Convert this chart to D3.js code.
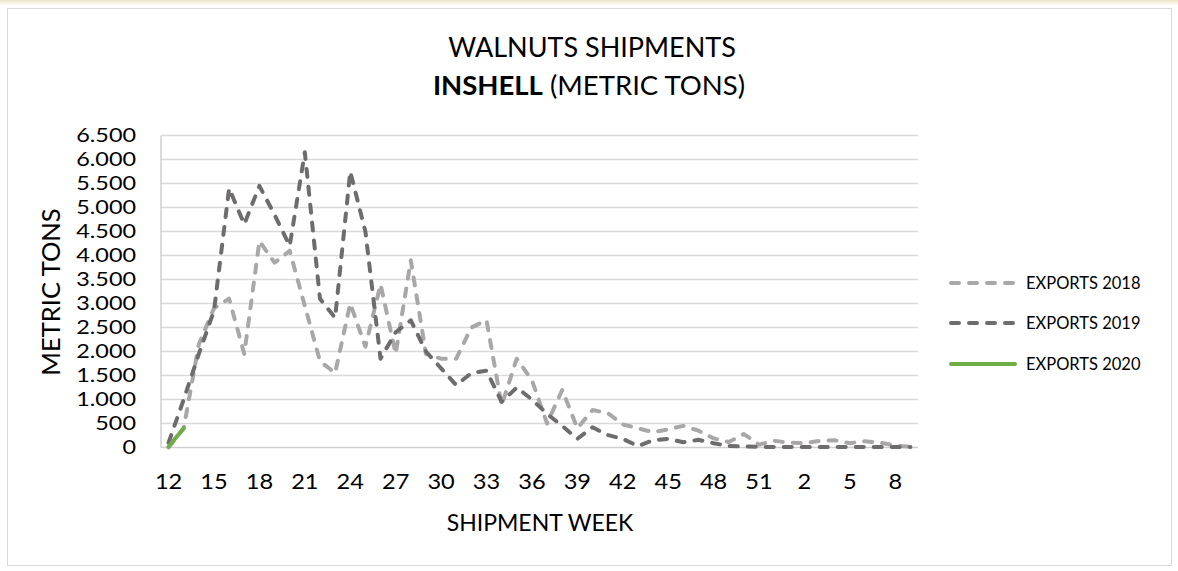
<!DOCTYPE html>
<html>
<head>
<meta charset="utf-8">
<script src="https://cdn.jsdelivr.net/npm/d3@7"></script>
<style>
  html, body { margin: 0; padding: 0; background: #ffffff; }
  svg { display: block; font-family: Lato, "Open Sans", sans-serif; }
</style>
</head>
<body>
<svg id="chart" width="1178" height="571"></svg>
<script>
// ---- data ----
const weeks = ["12","13","14","15","16","17","18","19","20","21","22","23","24","25","26","27","28","29","30","31",
  "32","33","34","35","36","37","38","39","40","41","42","43","44","45","46","47","48","49","50","51",
  "52","1","2","3","4","5","6","7","8","9"];
const exports2018 = [0,400,2150,2900,3100,1950,4300,3850,4100,2950,1800,1550,3000,2100,3400,1950,3900,1950,1850,1850,
  2500,2650,880,1850,1400,500,1200,400,780,720,480,400,320,380,450,350,190,115,280,60,
  140,100,90,140,150,90,130,100,40,15];
const exports2019 = [100,1000,1950,2850,5400,4650,5450,4850,4200,6150,3100,2700,5750,4500,1850,2400,2650,2000,1650,1300,
  1550,1600,950,1250,1000,700,450,180,420,260,180,30,150,180,110,160,90,30,20,15,
  10,10,10,10,10,10,10,10,10,10];
const exports2020 = [20,400];
const xTickLabels = ["12","15","18","21","24","27","30","33","36","39","42","45","48","51","2","5","8"];
const yTickValues = [0,500,1000,1500,2000,2500,3000,3500,4000,4500,5000,5500,6000,6500];
const seriesNames = ["EXPORTS 2018","EXPORTS 2019","EXPORTS 2020"];

// ---- layout ----
const svg = d3.select("#chart");
const plot = {left: 161, right: 918, top: 135.5, bottom: 447.5};
const colors = ["#a9a7a7", "#6f6c6c", "#70ad47"];

// top beige band
const defs = svg.append("defs");
const grad = defs.append("linearGradient").attr("id","topband").attr("x1",0).attr("x2",0).attr("y1",0).attr("y2",1);
grad.append("stop").attr("offset","0%").attr("stop-color","#efe4c8");
grad.append("stop").attr("offset","100%").attr("stop-color","#ffffff");
svg.append("rect").attr("x",0).attr("y",0).attr("width",1178).attr("height",6).attr("fill","url(#topband)");

// outer border
svg.append("rect").attr("x",7.5).attr("y",8.5).attr("width",1164).attr("height",557)
  .attr("fill","#fff").attr("stroke","#d9d9d9").attr("stroke-width",1);

const x = d3.scaleBand().domain(weeks).range([plot.left, plot.right]).padding(0);
const xc = w => x(w) + x.bandwidth() / 2;
const y = d3.scaleLinear().domain([0, 6500]).range([plot.bottom, plot.top]);

const locale = d3.formatLocale({decimal: ",", thousands: ".", grouping: [3], currency: ["", ""]});
const fmt = locale.format(",d");

// gridlines
svg.append("g").selectAll("line").data(yTickValues.filter(v => v > 0)).join("line")
  .attr("x1", plot.left).attr("x2", plot.right)
  .attr("y1", d => y(d)).attr("y2", d => y(d))
  .attr("stroke", "#d9d9d9").attr("stroke-width", 1.5);

// axes lines
svg.append("line").attr("x1", plot.left).attr("x2", plot.left).attr("y1", plot.top).attr("y2", plot.bottom)
  .attr("stroke", "#cfcfcf").attr("stroke-width", 1.5);
svg.append("line").attr("x1", plot.left).attr("x2", plot.right).attr("y1", plot.bottom).attr("y2", plot.bottom)
  .attr("stroke", "#cfcfcf").attr("stroke-width", 1.5);

// y axis labels
const yAxis = d3.axisLeft(y).tickValues(yTickValues).tickFormat(fmt).tickSize(0).tickPadding(0);
const gy = svg.append("g").attr("transform", `translate(136,0)`).call(yAxis);
gy.select(".domain").remove();
gy.selectAll("text").attr("font-size", 19.5).attr("fill", "#000").attr("font-family", "Lato, sans-serif")
  .attr("transform", "scale(1.2,1)");

// x axis labels
const xAxis = d3.axisBottom(x).tickValues(xTickLabels).tickSize(0).tickPadding(0);
const gx = svg.append("g").attr("transform", `translate(0,${plot.bottom})`).call(xAxis);
gx.select(".domain").remove();
gx.selectAll("text").attr("font-size", 20.5).attr("fill", "#000").attr("dy", null).attr("y", 42)
  .attr("font-family", "Lato, sans-serif").attr("transform", "scale(1.15,1)");

// axis titles
svg.append("text").attr("x", 540).attr("y", 531).attr("text-anchor", "middle")
  .attr("font-size", 23).attr("fill", "#000").text("SHIPMENT WEEK");
svg.append("text").attr("transform", "translate(60,292) rotate(-90)").attr("text-anchor", "middle")
  .attr("font-size", 25.5).attr("fill", "#000").text("METRIC TONS");

// title
svg.append("text").attr("x", 592).attr("y", 57).attr("text-anchor", "middle")
  .attr("font-size", 27).attr("fill", "#000").text("WALNUTS SHIPMENTS");
const t2 = svg.append("text").attr("x", 589).attr("y", 95).attr("text-anchor", "middle")
  .attr("font-size", 27.5).attr("fill", "#000");
t2.append("tspan").attr("font-weight", "bold").text("INSHELL");
t2.append("tspan").text(" (METRIC TONS)");

// lines
const line = d3.line().x((d, i) => xc(weeks[i])).y(d => y(d)).defined(d => d != null);
const series = [exports2018, exports2019, exports2020];
series.forEach((vals, k) => {
  svg.append("path").datum(vals)
    .attr("d", line)
    .attr("fill", "none")
    .attr("stroke", colors[k])
    .attr("stroke-width", 4)
    .attr("stroke-linecap", "round")
    .attr("stroke-linejoin", "round")
    .attr("stroke-dasharray", k < 2 ? "8,10" : null);
});

// legend
const legY = [283, 323, 364];
seriesNames.forEach((name, k) => {
  svg.append("line").attr("x1", 951).attr("x2", 1015).attr("y1", legY[k]).attr("y2", legY[k])
    .attr("stroke", colors[k]).attr("stroke-width", 4).attr("stroke-linecap", "round")
    .attr("stroke-dasharray", k < 2 ? "8,10" : null);
  svg.append("text").attr("x", 1026).attr("y", legY[k]).attr("dy", "0.35em")
    .attr("font-size", 16.5).attr("fill", "#000").text(name);
});
</script>
</body>
</html>
